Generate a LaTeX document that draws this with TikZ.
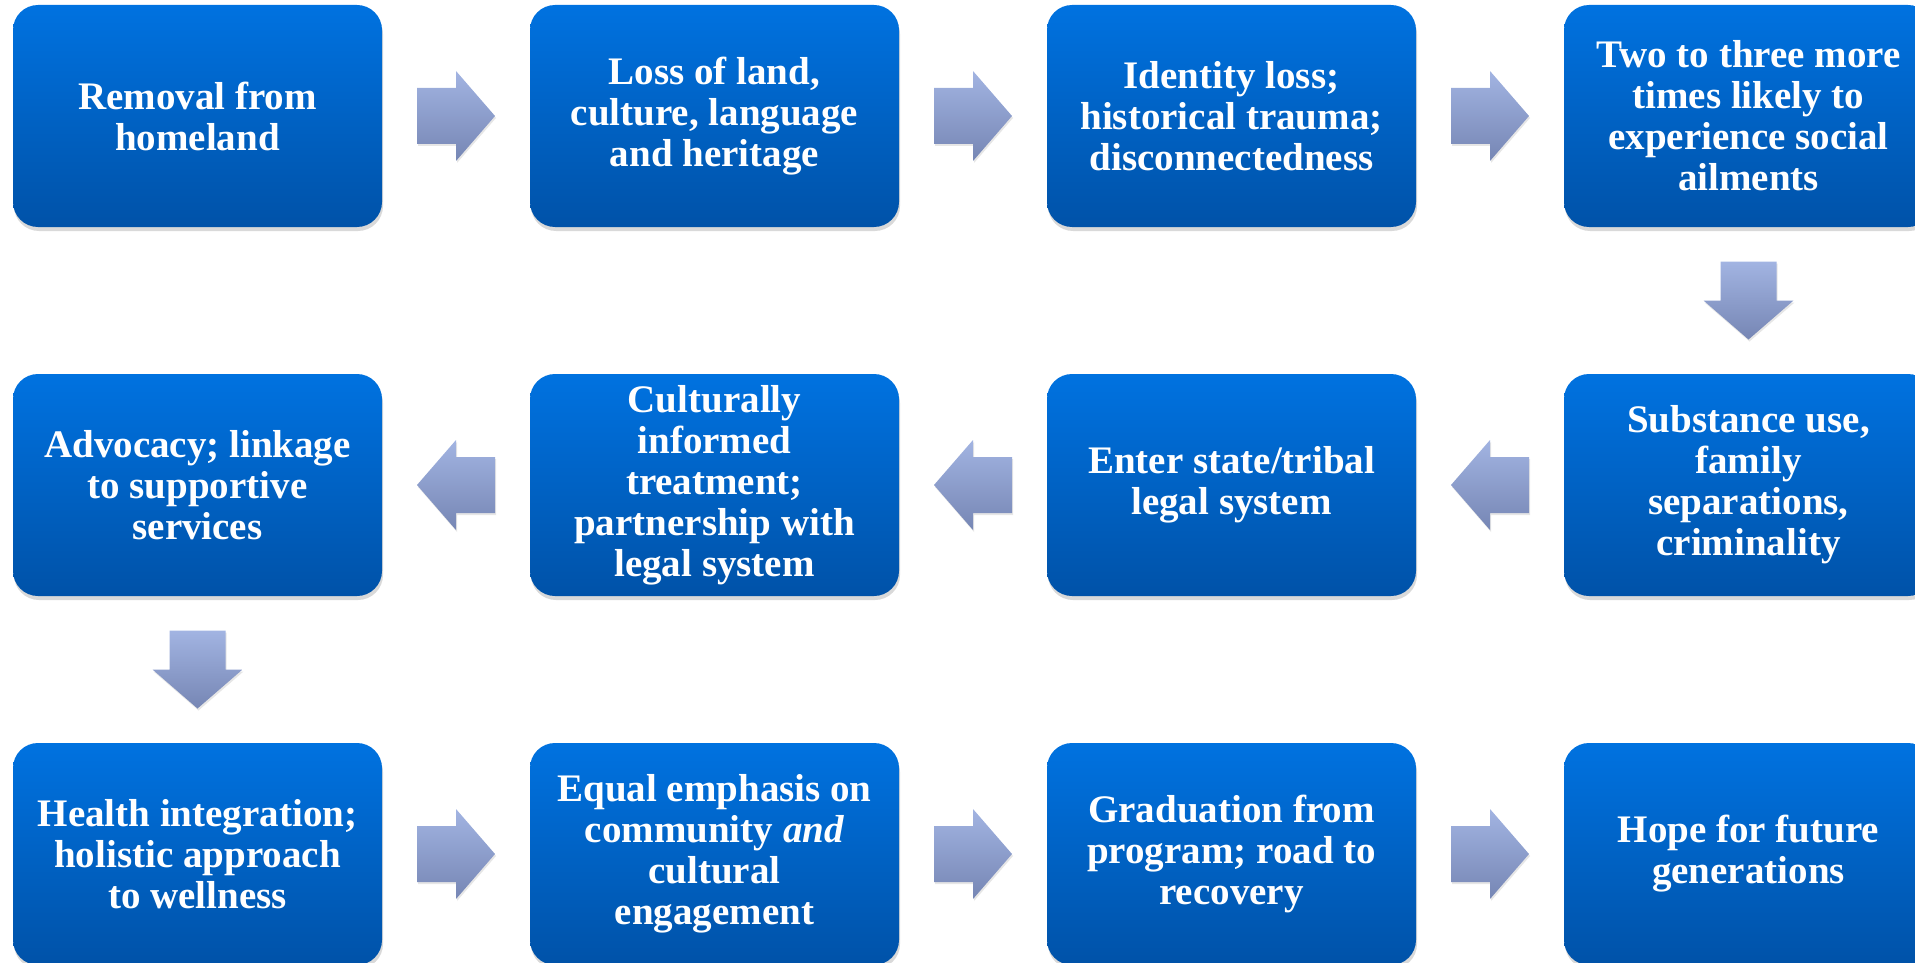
\documentclass[tikz,border=0pt]{standalone}
\usepackage{fontspec}
\setmainfont{Liberation Serif}
\usetikzlibrary{shadows,calc}
\definecolor{boxtop}{RGB}{0,114,224}
\definecolor{boxbot}{RGB}{0,82,168}
\definecolor{arrtop}{RGB}{162,180,226}
\definecolor{arrbot}{RGB}{118,134,180}
\begin{document}
\begin{tikzpicture}[x=1pt,y=-1pt,
  stepbox/.style={rectangle, rounded corners=25pt, minimum width=369pt, minimum height=222pt,
    inner sep=0pt, top color=boxtop, bottom color=boxbot, draw=none, text=white,
    font=\fontsize{39}{41}\selectfont\bfseries, align=center,
    drop shadow={opacity=0.3, shadow xshift=1pt, shadow yshift=-4pt}},
  blockarrow/.style={top color=arrtop, bottom color=arrbot, draw=none,
    drop shadow={opacity=0.2, shadow xshift=1pt, shadow yshift=-2pt}}]
\useasboundingbox (0,0) rectangle (1915,963);
\clip (0,0) rectangle (1915,963);
% row 1
\node[stepbox] (b1) at (197.5,116) {Removal from\\homeland};
\node[stepbox] (b2) at (714.5,116) {Loss of land,\\culture, language\\and heritage};
\node[stepbox] (b3) at (1231.5,116) {Identity loss;\\historical trauma;\\disconnectedness};
\node[stepbox] (b4) at (1748.5,116) {Two to three more\\times likely to\\experience social\\ailments};
% row 2
\node[stepbox] (b5) at (1748.5,485) {Substance use,\\family\\separations,\\criminality};
\node[stepbox] (b6) at (1231.5,485) {Enter state/tribal\\legal system};
\node[stepbox] (b7) at (714.5,485) {Culturally\\informed\\treatment;\\partnership with\\legal system};
\node[stepbox] (b8) at (197.5,485) {Advocacy; linkage\\to supportive\\services};
% row 3
\node[stepbox] (b9) at (197.5,854) {Health integration;\\holistic approach\\to wellness};
\node[stepbox] (b10) at (714.5,854) {Equal emphasis on\\community \textit{and}\\cultural\\engagement};
\node[stepbox] (b11) at (1231.5,854) {Graduation from\\program; road to\\recovery};
\node[stepbox] (b12) at (1748.5,854) {Hope for future\\generations};
% arrow centres
\coordinate (a1) at ($(b1.east)!0.5!(b2.west)$);
\coordinate (a2) at ($(b2.east)!0.5!(b3.west)$);
\coordinate (a3) at ($(b3.east)!0.5!(b4.west)$);
\coordinate (a4) at ($(b4.south)!0.5!(b5.north)$);
\coordinate (a5) at ($(b6.east)!0.5!(b5.west)$);
\coordinate (a6) at ($(b7.east)!0.5!(b6.west)$);
\coordinate (a7) at ($(b8.east)!0.5!(b7.west)$);
\coordinate (a8) at ($(b8.south)!0.5!(b9.north)$);
\coordinate (a9) at ($(b9.east)!0.5!(b10.west)$);
\coordinate (a10) at ($(b10.east)!0.5!(b11.west)$);
\coordinate (a11) at ($(b11.east)!0.5!(b12.west)$);
% right arrows
\foreach \c in {a1,a2,a3,a9,a10,a11}
  \path[blockarrow, shift={(\c)}] (-39,-28) -- (0,-28) -- (0,-45) -- (39,0) -- (0,45) -- (0,28) -- (-39,28) -- cycle;
% left arrows
\foreach \c in {a5,a6,a7}
  \path[blockarrow, shift={(\c)}] (39,-28) -- (0,-28) -- (0,-45) -- (-39,0) -- (0,45) -- (0,28) -- (39,28) -- cycle;
% down arrows
\foreach \c in {a4,a8}
  \path[blockarrow, shift={(\c)}] (-28,-39) -- (28,-39) -- (28,0) -- (45,0) -- (0,39) -- (-45,0) -- (-28,0) -- cycle;
\end{tikzpicture}
\end{document}
